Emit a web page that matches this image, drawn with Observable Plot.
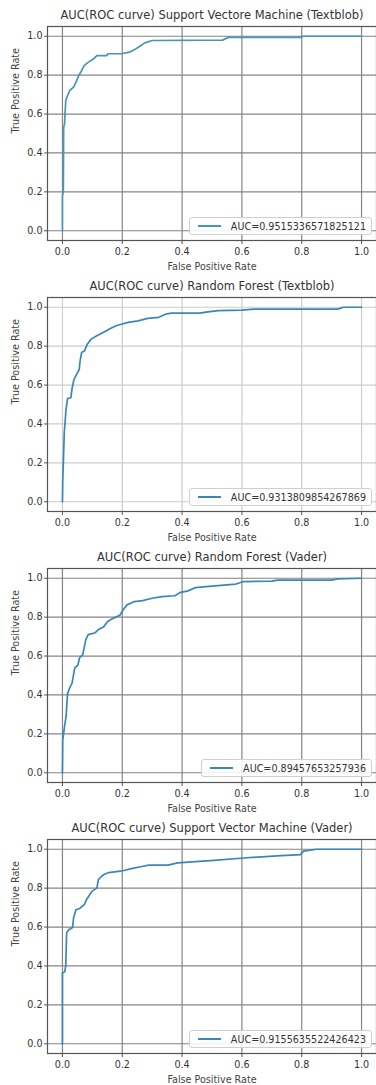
<!DOCTYPE html>
<html><head><meta charset="utf-8">
<script src="https://cdn.jsdelivr.net/npm/d3@7"></script>
<script src="https://cdn.jsdelivr.net/npm/@observablehq/plot@0.6"></script>
<style>
body{margin:0;background:#fff;width:376px;overflow:hidden;font-family:"DejaVu Sans",sans-serif;}
.panel{position:relative;width:376px;height:271px;overflow:hidden;}
.legend{position:absolute;right:4px;top:217px;height:16px;border:1px solid #cfcfcf;border-radius:3px;background:rgba(255,255,255,0.85);display:flex;align-items:center;padding:0 5px 0 8px;font-size:9.6px;color:#333;white-space:nowrap;}
.legend .swatch{display:inline-block;width:23px;height:2px;margin-right:10px;}
</style></head><body><div id="chart"></div>
<script>
const titles = [
  "AUC(ROC curve) Support Vectore Machine (Textblob)",
  "AUC(ROC curve) Random Forest (Textblob)",
  "AUC(ROC curve) Random Forest (Vader)",
  "AUC(ROC curve) Support Vector Machine (Vader)"
];
const aucLabels = [
  "AUC=0.9515336571825121",
  "AUC=0.9313809854267869",
  "AUC=0.89457653257936",
  "AUC=0.9155635522426423"
];
const tickValues = [0, 0.2, 0.4, 0.6, 0.8, 1.0];
const xLabel = "False Positive Rate";
const yLabel = "True Positive Rate";

const svmTextblobFpr = [0, 0, 0.003, 0.004, 0.007, 0.011, 0.016, 0.024, 0.038, 0.047, 0.055, 0.063, 0.073, 0.087, 0.104, 0.115, 0.148, 0.152, 0.197, 0.224, 0.24, 0.26, 0.275, 0.30, 0.535, 0.555, 0.80, 0.80, 1.0];
const svmTextblobTpr = [0, 0.18, 0.2, 0.53, 0.55, 0.67, 0.69, 0.72, 0.74, 0.77, 0.80, 0.82, 0.85, 0.867, 0.884, 0.90, 0.90, 0.91, 0.91, 0.918, 0.93, 0.95, 0.966, 0.978, 0.98, 0.994, 0.994, 1.0, 1.0];

const rfTextblobFpr = [0, 0.001, 0.003, 0.006, 0.012, 0.017, 0.028, 0.032, 0.038, 0.049, 0.056, 0.059, 0.064, 0.074, 0.083, 0.096, 0.115, 0.136, 0.157, 0.179, 0.2, 0.22, 0.253, 0.285, 0.322, 0.349, 0.365, 0.46, 0.48, 0.52, 0.6, 0.64, 0.92, 0.94, 1.0];
const rfTextblobTpr = [0, 0.11, 0.2, 0.355, 0.474, 0.53, 0.535, 0.58, 0.626, 0.66, 0.68, 0.724, 0.767, 0.776, 0.81, 0.836, 0.853, 0.87, 0.888, 0.905, 0.914, 0.922, 0.93, 0.943, 0.948, 0.966, 0.97, 0.97, 0.975, 0.983, 0.985, 0.99, 0.99, 1.0, 1.0];

const rfVaderFpr = [0, 0.001, 0.0065, 0.012, 0.017, 0.025, 0.032, 0.041, 0.052, 0.057, 0.068, 0.078, 0.086, 0.11, 0.119, 0.13, 0.138, 0.151, 0.171, 0.192, 0.203, 0.216, 0.24, 0.268, 0.3, 0.333, 0.376, 0.392, 0.42, 0.445, 0.48, 0.53, 0.58, 0.606, 0.7, 0.72, 0.9, 0.92, 1.0];
const rfVaderTpr = [0, 0.167, 0.235, 0.287, 0.407, 0.44, 0.46, 0.538, 0.555, 0.59, 0.607, 0.684, 0.71, 0.72, 0.735, 0.744, 0.75, 0.778, 0.795, 0.81, 0.838, 0.863, 0.88, 0.885, 0.897, 0.905, 0.91, 0.926, 0.935, 0.952, 0.957, 0.963, 0.97, 0.983, 0.985, 0.99, 0.99, 0.997, 1.0];

const svmVaderFpr = [0, 0, 0.0075, 0.011, 0.014, 0.021, 0.034, 0.037, 0.045, 0.059, 0.073, 0.08, 0.091, 0.1, 0.115, 0.12, 0.13, 0.139, 0.155, 0.193, 0.209, 0.23, 0.262, 0.289, 0.353, 0.385, 0.506, 0.606, 0.718, 0.796, 0.806, 0.85, 1.0];
const svmVaderTpr = [0, 0.364, 0.37, 0.4, 0.57, 0.586, 0.598, 0.646, 0.689, 0.697, 0.715, 0.74, 0.766, 0.786, 0.8, 0.843, 0.86, 0.87, 0.88, 0.887, 0.892, 0.9, 0.91, 0.918, 0.918, 0.93, 0.943, 0.955, 0.966, 0.972, 0.99, 1.0, 1.0];

const lineColors = ["#4796b5", "#3a87b7", "#3a87b7", "#3a87b7"];
const gridColors = ["#858585", "#cccccc", "#858585", "#858585"];

const series = [
  [svmTextblobFpr, svmTextblobTpr],
  [rfTextblobFpr, rfTextblobTpr],
  [rfVaderFpr, rfVaderTpr],
  [svmVaderFpr, svmVaderTpr]
];

const root = document.getElementById("chart");
series.forEach(([fpr, tpr], k) => {
  const data = fpr.map((x, i) => ({fpr: x, tpr: tpr[i]}));
  const panel = document.createElement("div");
  panel.className = "panel";
  const chart = Plot.plot({
    width: 376, height: 271,
    marginTop: 26, marginBottom: 31, marginLeft: 47, marginRight: 0,
    x: {domain: [-0.05, 1.05]},
    y: {domain: [-0.05, 1.05]},
    style: {fontFamily: "DejaVu Sans, sans-serif", fontSize: "9.6px", color: "#333", background: "#fff"},
    marks: [
      Plot.gridX(tickValues, {stroke: gridColors[k], strokeOpacity: 1, strokeWidth: 1.2}),
      Plot.gridY(tickValues, {stroke: gridColors[k], strokeOpacity: 1, strokeWidth: 1.2}),
      Plot.frame({stroke: "#555", strokeWidth: 1.2}),
      Plot.axisX(tickValues, {tickFormat: d3.format(".1f"), tickSize: 4, tickPadding: 4, label: null, stroke: "#555"}),
      Plot.axisY(tickValues, {tickFormat: d3.format(".1f"), tickSize: 3, tickPadding: 2, label: null, stroke: "#555"}),
      Plot.line(data, {x: "fpr", y: "tpr", stroke: lineColors[k], strokeWidth: 1.7}),
      Plot.text([titles[k]], {text: d => d, frameAnchor: "top", dy: -11, lineAnchor: "middle", fontSize: 11.5, fill: "#333"}),
      Plot.text([xLabel], {text: d => d, frameAnchor: "bottom", dy: 26, lineAnchor: "middle", fontSize: 9.6, fill: "#444"}),
      Plot.text([yLabel], {text: d => d, frameAnchor: "left", dx: -32, rotate: -90, lineAnchor: "middle", fontSize: 9.6, fill: "#444"})
    ]
  });
  panel.appendChild(chart);
  const lg = document.createElement("div");
  lg.className = "legend";
  const sw = document.createElement("span");
  sw.className = "swatch";
  sw.style.background = lineColors[k];
  const tx = document.createElement("span");
  tx.textContent = aucLabels[k];
  lg.appendChild(sw); lg.appendChild(tx);
  panel.appendChild(lg);
  root.appendChild(panel);
});
</script>
</body></html>
